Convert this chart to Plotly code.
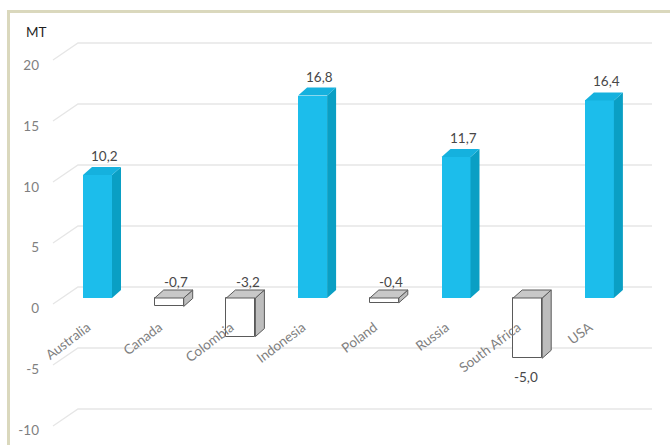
import plotly.graph_objects as go

# ---------------- data ----------------
categories = ["Australia", "Canada", "Colombia", "Indonesia", "Poland", "Russia", "South Africa", "USA"]
values = [10.2, -0.7, -3.2, 16.8, -0.4, 11.7, -5.0, 16.4]
label_side = ["above", "above", "above", "above", "above", "above", "below", "above"]
y_ticks = [-10, -5, 0, 5, 10, 15, 20]
unit_label = "MT"

# ---------------- geometry (pixels) ----------------
W, H = 670, 445
X_LEFT_PX, X_RIGHT_PX = 52, 652
CAT0_PX, CAT_STEP_PX = 97.5, 71.7
ZERO_PX, UNIT_PX = 298, 12.05
Y_TOP_PX, Y_BOT_PX = 30, 440
BAR_W_PX = 29
DEPTH_X_PX, DEPTH_Y_PX = 9, 8
BACK_ZERO_PX, BACK_UNIT_PX = 287, 12.2
LABEL_ZERO_PX, LABEL_UNIT_PX = 308.5, 12.17
SLANT_X0_PX, SLANT_X1_PX, SLANT_DY_PX = 53, 78, 17
XLABEL_SHIFT_PX = 10

FONT = "Lato"
FS = 13.5
POS_FRONT, POS_SIDE, POS_TOP = "#1CBDEB", "#0A9FC4", "#15B1DE"
NEG_FRONT, NEG_SIDE, NEG_TOP, NEG_LINE = "#FFFFFF", "#BDBDBD", "#C8C8C8", "#5A5A5A"
GRID = "#E6E6E6"


def dxu(p):
    return p / CAT_STEP_PX


def dyu(p):
    return p / UNIT_PX


def xdata(px):
    return (px - CAT0_PX) / CAT_STEP_PX


def ydata(py):
    return (ZERO_PX - py) / UNIT_PX


x_range = [xdata(X_LEFT_PX), xdata(X_RIGHT_PX)]
y_range = [ydata(Y_BOT_PX), ydata(Y_TOP_PX)]
half = dxu(BAR_W_PX) / 2
ddx, ddy = dxu(DEPTH_X_PX), dyu(DEPTH_Y_PX)

fig = go.Figure()

# ---- gridlines (back wall + slanted side wall), drawn below the bars ----
for v in y_ticks:
    yb = ydata(BACK_ZERO_PX - BACK_UNIT_PX * v)
    yf = ydata(BACK_ZERO_PX - BACK_UNIT_PX * v + SLANT_DY_PX)
    path = (f"M {xdata(SLANT_X0_PX)},{yf} L {xdata(SLANT_X1_PX)},{yb} L {x_range[1]},{yb}")
    fig.add_shape(type="path", xref="x", yref="y", path=path, layer="below",
                  line=dict(color=GRID, width=1.3))

# ---- 3D faces ----
ps_x, ps_y, pt_x, pt_y, ns_x, ns_y, nt_x, nt_y = ([] for _ in range(8))
for i, v in enumerate(values):
    xl, xr = i - half, i + half
    top = max(v, 0)
    bot = min(v, 0)
    side_x = [xr, xr + ddx, xr + ddx, xr, xr, None]
    side_y = [bot, bot + ddy, top + ddy, top, bot, None]
    top_x = [xl, xl + ddx, xr + ddx, xr, xl, None]
    top_y = [top, top + ddy, top + ddy, top, top, None]
    if v >= 0:
        ps_x += side_x; ps_y += side_y; pt_x += top_x; pt_y += top_y
    else:
        ns_x += side_x; ns_y += side_y; nt_x += top_x; nt_y += top_y

fig.add_trace(go.Scatter(x=ps_x, y=ps_y, mode="lines", fill="toself", fillcolor=POS_SIDE,
                         line=dict(width=0, color=POS_SIDE), hoverinfo="skip", showlegend=False))
fig.add_trace(go.Scatter(x=pt_x, y=pt_y, mode="lines", fill="toself", fillcolor=POS_TOP,
                         line=dict(width=0, color=POS_TOP), hoverinfo="skip", showlegend=False))
fig.add_trace(go.Scatter(x=ns_x, y=ns_y, mode="lines", fill="toself", fillcolor=NEG_SIDE,
                         line=dict(width=1, color=NEG_LINE), hoverinfo="skip", showlegend=False))
fig.add_trace(go.Scatter(x=nt_x, y=nt_y, mode="lines", fill="toself", fillcolor=NEG_TOP,
                         line=dict(width=1, color=NEG_LINE), hoverinfo="skip", showlegend=False))

# ---- front faces ----
idx = list(range(len(categories)))
fig.add_trace(go.Bar(x=idx, y=[v if v >= 0 else None for v in values], width=2 * half,
                     marker=dict(color=POS_FRONT, line=dict(width=0)),
                     hoverinfo="skip", showlegend=False))
fig.add_trace(go.Bar(x=idx, y=[v if v < 0 else None for v in values], width=2 * half,
                     marker=dict(color=NEG_FRONT, line=dict(width=1, color=NEG_LINE)),
                     hoverinfo="skip", showlegend=False))

# ---- data labels ----
for i, (v, side) in enumerate(zip(values, label_side)):
    txt = f"{v:.1f}".replace(".", ",")
    if side == "above":
        y = max(v, 0) + dyu(19) if v >= 0 else dyu(16)
        x = i + dxu(7)
    else:
        y = v - dyu(19)
        x = i - dxu(2)
    fig.add_annotation(x=x, y=y, text=txt, showarrow=False, xanchor="center", yanchor="middle",
                       font=dict(family=FONT, size=FS, color="#474747"))

# ---- unit label ----
fig.add_annotation(xref="paper", yref="paper", x=24 / W, y=1 - 32 / H, text=unit_label,
                   showarrow=False, xanchor="left", yanchor="middle",
                   font=dict(family=FONT, size=FS, color="#1F1F1F"))

# ---- border ----
BORDER = "#DAD8BD"
fig.add_shape(type="line", xref="paper", yref="paper", x0=7 / W, x1=1, y0=1 - 11.5 / H, y1=1 - 11.5 / H,
              line=dict(color=BORDER, width=3))
fig.add_shape(type="line", xref="paper", yref="paper", x0=8.5 / W, x1=8.5 / W, y0=0, y1=1 - 10 / H,
              line=dict(color=BORDER, width=3))

fig.update_layout(
    width=W, height=H, autosize=False,
    margin=dict(l=0, r=0, t=0, b=0, pad=0),
    paper_bgcolor="white", plot_bgcolor="rgba(0,0,0,0)",
    barmode="overlay", bargap=0,
    font=dict(family=FONT, size=FS, color="#7F7F7F"),
    xaxis=dict(domain=[X_LEFT_PX / W, X_RIGHT_PX / W], range=x_range,
               tickmode="array", tickvals=[i - dxu(XLABEL_SHIFT_PX) for i in idx],
               ticktext=categories, tickangle=-37, layer="above traces",
               anchor="free", position=1 - 316 / H, automargin=False,
               showgrid=False, zeroline=False, showline=False, ticks="",
               tickfont=dict(family=FONT, size=FS, color="#7F7F7F")),
    yaxis=dict(domain=[1 - Y_BOT_PX / H, 1 - Y_TOP_PX / H], range=y_range,
               tickmode="array",
               tickvals=[ydata(LABEL_ZERO_PX - LABEL_UNIT_PX * v) for v in y_ticks],
               ticktext=[str(v) for v in y_ticks], automargin=False,
               showgrid=False, zeroline=False, showline=False, ticks="",
               ticklabelstandoff=12,
               tickfont=dict(family=FONT, size=FS, color="#7F7F7F")),
)

fig.write_html(
    "out.html",
    config={"displayModeBar": False},
    post_script=(
        "document.documentElement.style.margin='0';"
        "document.body.style.margin='0';document.body.style.padding='0';"
        "var d=document.getElementById('{plot_id}');"
        "d.style.position='absolute';d.style.left='0px';d.style.top='0px';"
    ),
)
